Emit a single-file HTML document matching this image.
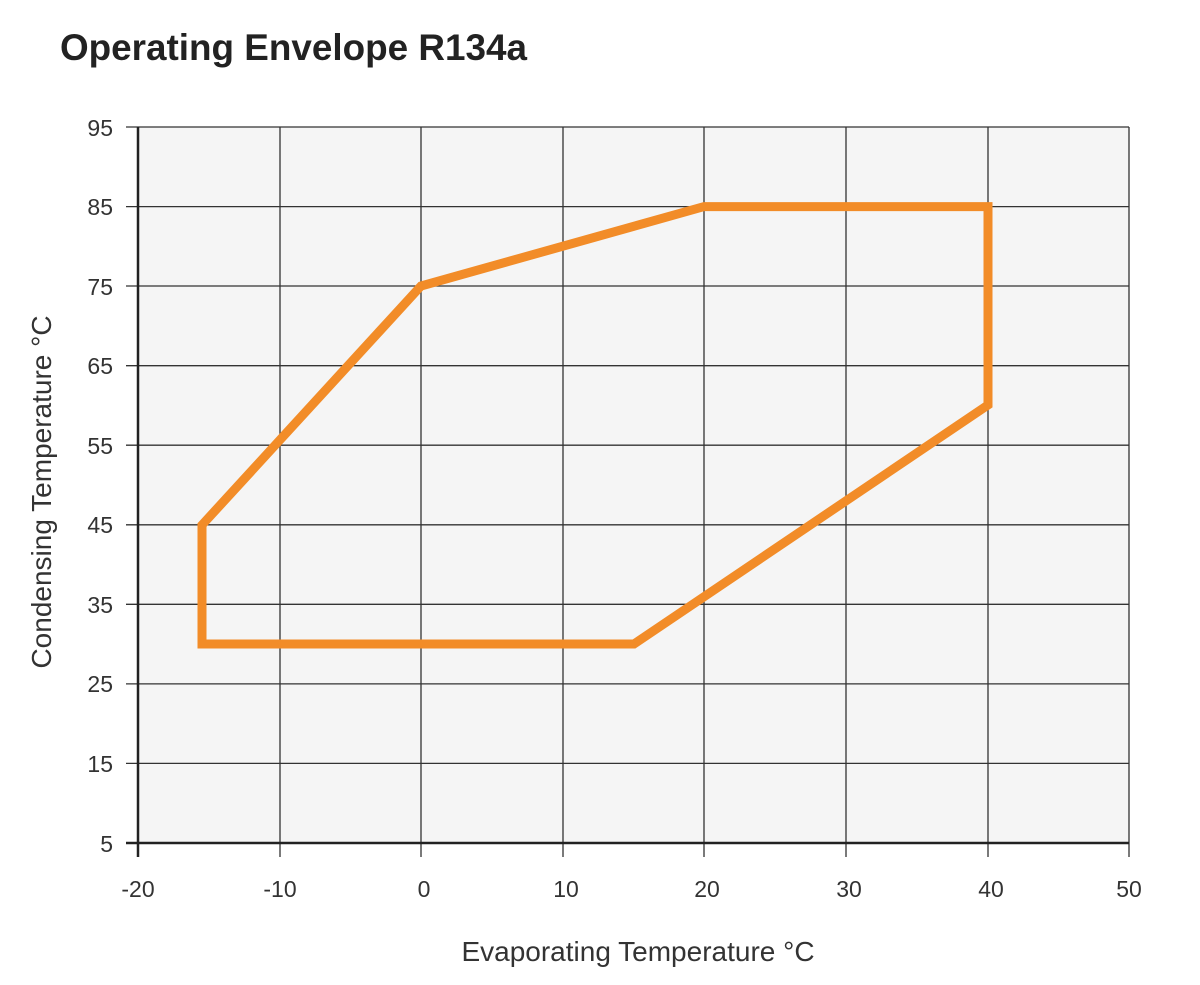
<!DOCTYPE html>
<html><head><meta charset="utf-8"><style>
body{margin:0;background:#fff;}
svg{display:block;font-family:"Liberation Sans",sans-serif;}
</style></head><body>
<svg width="1200" height="985" viewBox="0 0 1200 985" xmlns="http://www.w3.org/2000/svg">
<text x="60" y="60" font-size="37" font-weight="bold" fill="#222" textLength="467" lengthAdjust="spacingAndGlyphs">Operating Envelope R134a</text>
<rect x="138" y="127" width="991" height="716" fill="#f5f5f5"/>
<g stroke="#333" stroke-width="1.3">
<line x1="280" y1="127" x2="280" y2="857"/>
<line x1="421" y1="127" x2="421" y2="857"/>
<line x1="563" y1="127" x2="563" y2="857"/>
<line x1="704" y1="127" x2="704" y2="857"/>
<line x1="846" y1="127" x2="846" y2="857"/>
<line x1="988" y1="127" x2="988" y2="857"/>
<line x1="1129" y1="127" x2="1129" y2="857"/>
<line x1="126" y1="127" x2="1129" y2="127"/>
<line x1="126" y1="206.6" x2="1129" y2="206.6"/>
<line x1="126" y1="286" x2="1129" y2="286"/>
<line x1="126" y1="365.7" x2="1129" y2="365.7"/>
<line x1="126" y1="445.2" x2="1129" y2="445.2"/>
<line x1="126" y1="524.8" x2="1129" y2="524.8"/>
<line x1="126" y1="604.3" x2="1129" y2="604.3"/>
<line x1="126" y1="683.9" x2="1129" y2="683.9"/>
<line x1="126" y1="763.4" x2="1129" y2="763.4"/>
</g>
<g stroke="#222" stroke-width="2.5">
<line x1="138" y1="127" x2="138" y2="857"/>
<line x1="126" y1="843" x2="1129" y2="843"/>
</g>
<polygon points="202,525 421,286 704,206.6 988,206.6 988,405 634,644 202,644" fill="none" stroke="#f28c28" stroke-width="9" stroke-linejoin="miter"/>
<g font-size="23" fill="#333" text-anchor="end">
<text x="113" y="136">95</text>
<text x="113" y="215">85</text>
<text x="113" y="295">75</text>
<text x="113" y="374">65</text>
<text x="113" y="454">55</text>
<text x="113" y="533">45</text>
<text x="113" y="613">35</text>
<text x="113" y="692">25</text>
<text x="113" y="772">15</text>
<text x="113" y="852">5</text>
</g>
<g font-size="23" fill="#333" text-anchor="middle">
<text x="138" y="897">-20</text>
<text x="280" y="897">-10</text>
<text x="424" y="897">0</text>
<text x="566" y="897">10</text>
<text x="707" y="897">20</text>
<text x="849" y="897">30</text>
<text x="991" y="897">40</text>
<text x="1129" y="897">50</text>
<text x="638" y="961" font-size="28">Evaporating Temperature °C</text>
<text transform="translate(51,492) rotate(-90)" font-size="28">Condensing Temperature °C</text>
</g>
</svg>
</body></html>
